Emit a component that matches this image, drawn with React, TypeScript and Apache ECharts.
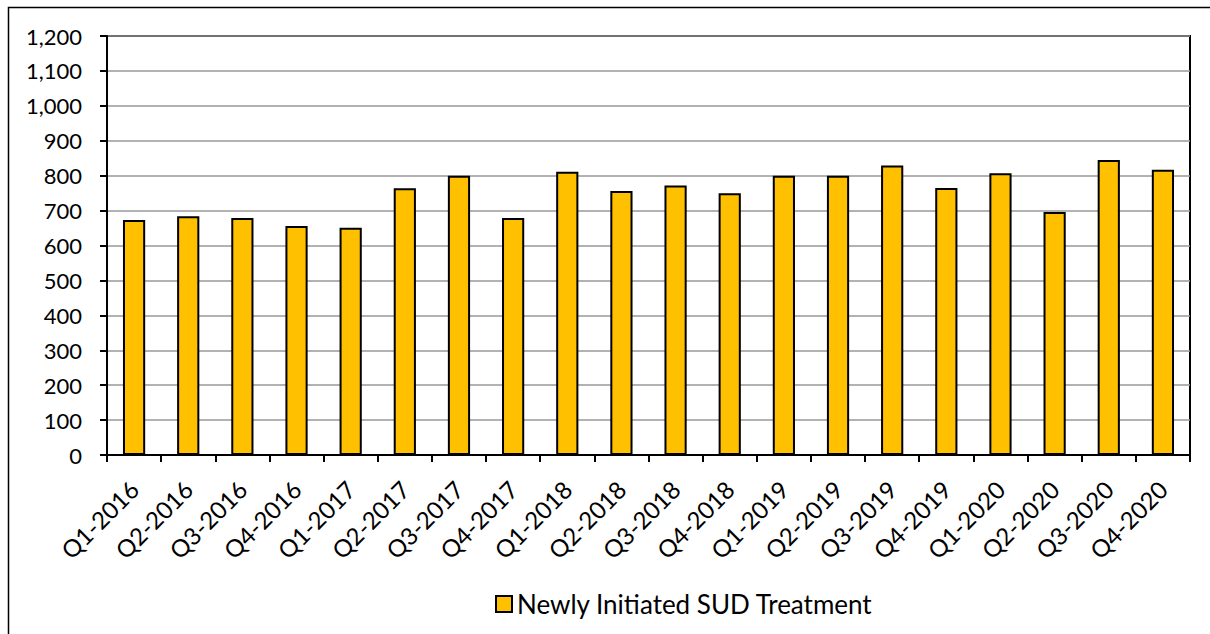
import React, { useEffect, useRef } from "react";
import * as echarts from "echarts";

const categories = [
  "Q1-2016", "Q2-2016", "Q3-2016", "Q4-2016",
  "Q1-2017", "Q2-2017", "Q3-2017", "Q4-2017",
  "Q1-2018", "Q2-2018", "Q3-2018", "Q4-2018",
  "Q1-2019", "Q2-2019", "Q3-2019", "Q4-2019",
  "Q1-2020", "Q2-2020", "Q3-2020", "Q4-2020",
];
const seriesName = "Newly Initiated SUD Treatment";
const values = [
  673, 684, 679, 656,
  651, 764, 800, 679,
  811, 756, 772, 750,
  800, 800, 829, 765,
  807, 696, 845, 817,
];
const yMin = 0;
const yMax = 1200;
const yStep = 100;

const FONT = "Lato, 'Liberation Sans', sans-serif";

export default function App() {
  const ref = useRef<HTMLDivElement>(null);
  useEffect(() => {
    if (!ref.current) return;
    const chart = echarts.init(ref.current, null, { renderer: "svg" });
    chart.setOption({
      animation: false,
      backgroundColor: "#ffffff",
      graphic: [
        {
          type: "rect",
          shape: { x: 8.5, y: 7.5, width: 1240, height: 660 },
          style: { fill: "none", stroke: "#000", lineWidth: 1.5 },
          silent: true,
          z: 0,
        },
      ],
      grid: {
        left: 107,
        top: 36,
        right: 20,
        bottom: 179,
        show: true,
        borderColor: "#000",
        borderWidth: 2,
        backgroundColor: "transparent",
      },
      legend: {
        show: true,
        bottom: 12,
        left: 490,
        itemWidth: 16,
        itemHeight: 16,
        itemGap: 10,
        icon: "rect",
        textStyle: { fontFamily: FONT, fontSize: 26, color: "#000" },
        data: [seriesName],
      },
      xAxis: {
        type: "category",
        data: categories,
        boundaryGap: true,
        axisLine: { show: true, lineStyle: { color: "#000", width: 2 } },
        axisTick: { show: true, length: 7, lineStyle: { color: "#000", width: 2 }, alignWithLabel: false },
        axisLabel: {
          rotate: 45,
          interval: 0,
          margin: 30,
          fontFamily: FONT,
          fontSize: 24,
          color: "#000",
        },
        splitLine: { show: false },
      },
      yAxis: {
        type: "value",
        min: yMin,
        max: yMax,
        interval: yStep,
        axisLine: { show: true, lineStyle: { color: "#000", width: 2 } },
        axisTick: { show: true, length: 7, lineStyle: { color: "#000", width: 2 } },
        axisLabel: {
          margin: 25,
          fontFamily: FONT,
          fontSize: 22,
          color: "#000",
          formatter: (v: number) => v.toLocaleString("en-US"),
        },
        splitLine: { show: true, lineStyle: { color: "#999", width: 1.5 } },
      },
      series: [
        {
          name: seriesName,
          type: "bar",
          data: values,
          barWidth: "41%",
          itemStyle: { color: "#FFC000", borderColor: "#000", borderWidth: 2 },
        },
      ],
    });
    return () => chart.dispose();
  }, []);
  return (
    <div
      ref={ref}
      style={{ position: "fixed", left: 0, top: 0, width: 1210, height: 634 }}
    />
  );
}
